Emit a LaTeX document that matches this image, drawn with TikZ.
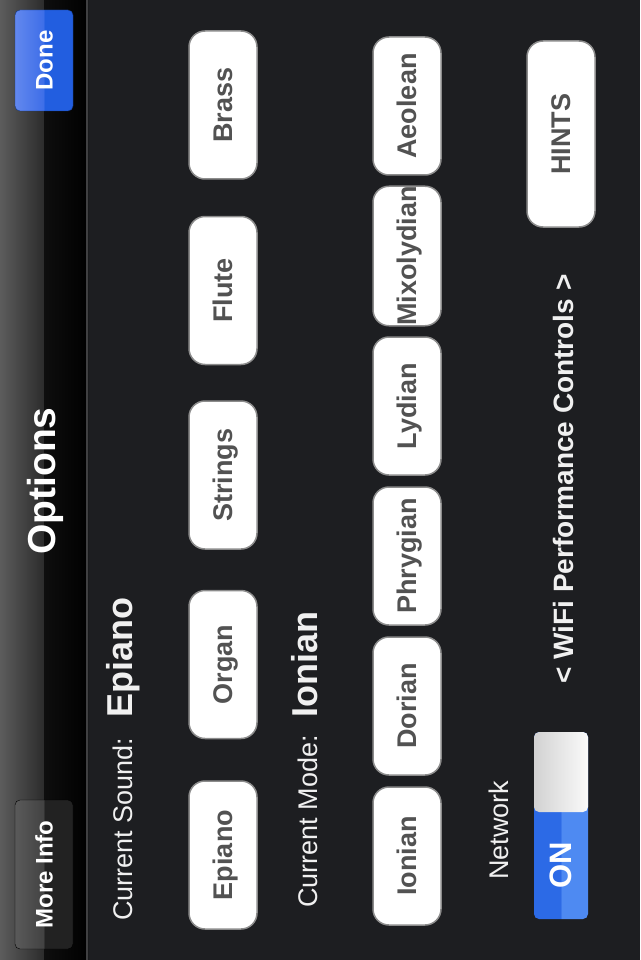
\documentclass[tikz,border=0pt]{standalone}
\usepackage{fontspec}
\setmainfont{Liberation Sans}
\definecolor{screenbg}{RGB}{29,30,33}
\definecolor{navlight}{RGB}{92,92,92}
\definecolor{navmid}{RGB}{44,44,44}
\definecolor{navdark}{RGB}{14,14,14}
\definecolor{navline}{RGB}{64,64,66}
\definecolor{doneblue}{RGB}{34,94,224}
\definecolor{donelight}{RGB}{98,136,238}
\definecolor{donemid}{RGB}{62,110,232}
\definecolor{infolight}{RGB}{90,90,90}
\definecolor{infomid}{RGB}{66,66,66}
\definecolor{infodark}{RGB}{34,34,34}
\definecolor{btnborder}{RGB}{140,140,140}
\definecolor{btntext}{RGB}{82,82,82}
\definecolor{lbltext}{RGB}{240,240,240}
\definecolor{onblue}{RGB}{44,106,230}
\definecolor{onlight}{RGB}{78,138,242}
\definecolor{knobleft}{RGB}{210,210,210}
\definecolor{knobright}{RGB}{250,250,250}
\pgfdeclarehorizontalshading{navshade}{100bp}{color(0bp)=(navlight); color(25bp)=(navlight); color(49.9bp)=(navmid); color(50bp)=(navdark); color(75bp)=(black); color(100bp)=(black)}
\pgfdeclarehorizontalshading{doneshade}{100bp}{color(0bp)=(donelight); color(25bp)=(donelight); color(49.9bp)=(donemid); color(50bp)=(doneblue); color(100bp)=(doneblue)}
\pgfdeclarehorizontalshading{infoshade}{100bp}{color(0bp)=(infolight); color(25bp)=(infolight); color(49.9bp)=(infomid); color(50bp)=(infodark); color(100bp)=(infodark)}
\pgfdeclarehorizontalshading{onshade}{100bp}{color(0bp)=(onblue); color(49.9bp)=(onblue); color(50bp)=(onlight); color(100bp)=(onlight)}
\newcommand{\fsz}[1]{\fontsize{#1}{#1}\selectfont}

\begin{document}
\begin{tikzpicture}[x=1pt,y=-1pt,
	btn/.style={rotate=90, draw=btnborder, line width=1.5pt, fill=white, rounded corners=16pt, minimum width=148pt, minimum height=68pt, inner sep=0pt, text=btntext, font=\bfseries\fsz{27}, text height=19pt, text depth=0pt},
	modebtn/.style={btn, minimum width=138pt},
	barbtn/.style={rotate=90, rounded corners=5pt, minimum height=58pt, inner sep=0pt, text=white, font=\bfseries\fsz{24}, text height=17pt, text depth=0pt},
	lbl/.style={rotate=90, inner sep=0pt, text=lbltext, font=\fsz{27}},
	val/.style={lbl, font=\bfseries\fsz{36}}]
	\useasboundingbox (0,0) rectangle (640,960);
	% screen and bar
	\fill[screenbg] (0,0) rectangle (640,960);
	\shade[shading=navshade] (0,0) rectangle (88,960);
	\fill[navline] (86,0) rectangle (88,960);
	\shade[shading=doneshade, rounded corners=5pt] (15,10) rectangle (73,111);
	\node (done) at (44, 60.5)	[barbtn, draw=doneblue!60!black, minimum width=101pt]	{Done};
	\shade[shading=infoshade, rounded corners=5pt] (15,800) rectangle (73,949);
	\node (info) at (44, 874.5)	[barbtn, draw=black, minimum width=149pt]	{More Info};
	\node (title) at (55, 481)	[rotate=90, anchor=base, inner sep=0pt, text=white, font=\bfseries\fsz{39}]	{Options};
	% sounds
	\node (sndlbl) at (132, 921)	[lbl, anchor=base west]	{Current Sound:};
	\node (sndval) at (132, 718)	[val, anchor=base west]	{Epiano};
	\node (brass) at (223, 105)	[btn]	{Brass};
	\node (flute) at (223, 290.5)	[btn]	{Flute};
	\node (strings) at (223, 475)	[btn]	{Strings};
	\node (organ) at (223, 664.5)	[btn]	{Organ};
	\node (epiano) at (223, 855)	[btn]	{Epiano};
	% modes
	\node (modelbl) at (317, 908)	[lbl, anchor=base west]	{Current Mode:};
	\node (modeval) at (317, 718)	[val, anchor=base west]	{Ionian};
	\node (aeolean) at (407, 106)	[modebtn]	{Aeolean};
	\node (mixo) at (407, 256)	[modebtn]	{Mixolydian};
	\node (lydian) at (407, 406)	[modebtn]	{Lydian};
	\node (phryg) at (407, 556)	[modebtn]	{Phrygian};
	\node (dorian) at (407, 706)	[modebtn]	{Dorian};
	\node (ionian) at (407, 856)	[modebtn]	{Ionian};
	% network
	\node (netlbl) at (508, 830)	[lbl, anchor=base]	{Network};
	\shade[shading=onshade, rounded corners=5pt] (534,732) rectangle (588,919);
	\shade[left color=knobleft, right color=knobright, rounded corners=5pt] (534,732) rectangle (588,812);
	\node (on) at (561, 865.5)	[rotate=90, inner sep=0pt, text=white, font=\bfseries\fsz{31}]	{ON};
	\node (wifi) at (573, 479)	[lbl, anchor=base, font=\bfseries\fsz{28}]	{< WiFi Performance Controls >};
	\node (hints) at (561, 134)	[btn, minimum width=186pt]	{HINTS};
\end{tikzpicture}
\end{document}
